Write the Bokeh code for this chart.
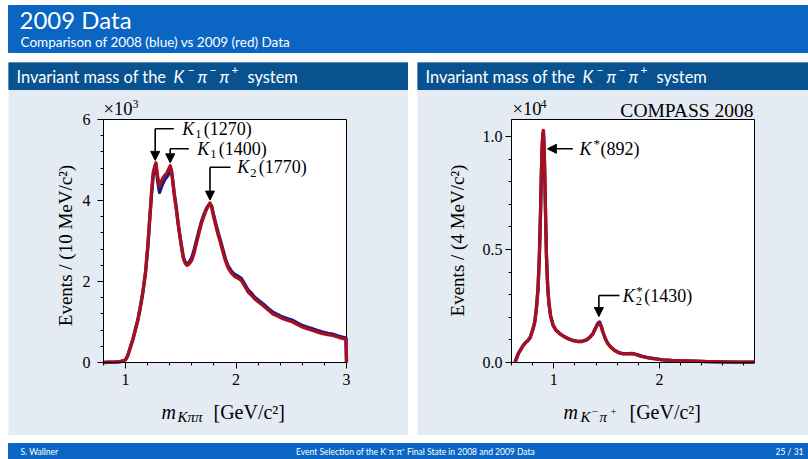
from bokeh.plotting import figure
from bokeh.models import (Range1d, Label, Arrow, NormalHead, SingleIntervalTicker,
                          NumeralTickFormatter, Spacer)
from bokeh.layouts import column, row
from bokeh.embed import file_html
from bokeh.resources import INLINE

# ---------------- data ----------------
# K pi pi invariant mass, 10 MeV bins, events in units of 10^3
kpp_mass = [0.80, 0.85, 0.90, 0.95, 0.98, 1.00, 1.02, 1.045, 1.07, 1.09, 1.11, 1.13, 1.155,
            1.18, 1.20, 1.22, 1.235, 1.25, 1.265, 1.275, 1.29, 1.307, 1.32, 1.337, 1.355,
            1.374, 1.39, 1.404, 1.415, 1.428, 1.44, 1.458, 1.475, 1.494, 1.51, 1.523, 1.54,
            1.554, 1.57, 1.585, 1.60, 1.62, 1.644, 1.665, 1.689, 1.71, 1.728, 1.745, 1.764,
            1.78, 1.794, 1.815, 1.839, 1.86, 1.884, 1.905, 1.929, 1.96, 1.989, 2.02, 2.049,
            2.08, 2.109, 2.14, 2.169, 2.20, 2.244, 2.29, 2.334, 2.38, 2.424, 2.47, 2.514,
            2.56, 2.604, 2.65, 2.694, 2.74, 2.784, 2.83, 2.874, 2.92, 2.97, 2.995, 3.0]
kpp_2009 = [0.0, 0.01, 0.01, 0.02, 0.04, 0.07, 0.18, 0.40, 0.62, 0.84, 1.05, 1.33, 1.72,
            2.23, 2.85, 3.63, 4.20, 4.70, 4.85, 4.93, 4.60, 4.35, 4.45, 4.55, 4.62,
            4.68, 4.78, 4.86, 4.75, 4.45, 4.15, 3.80, 3.42, 3.06, 2.78, 2.57, 2.45,
            2.40, 2.42, 2.47, 2.53, 2.70, 2.97, 3.20, 3.46, 3.62, 3.75, 3.85, 3.94,
            3.82, 3.63, 3.40, 3.14, 2.95, 2.70, 2.50, 2.33, 2.20, 2.12, 2.08, 2.02,
            1.88, 1.74, 1.66, 1.57, 1.50, 1.41, 1.30, 1.20, 1.14, 1.08, 1.04, 1.00,
            0.93, 0.87, 0.83, 0.79, 0.75, 0.71, 0.69, 0.67, 0.63, 0.59, 0.58, 0.0]
kpp_2008 = [0.0, 0.01, 0.01, 0.02, 0.04, 0.07, 0.17, 0.38, 0.60, 0.82, 1.03, 1.30, 1.70,
            2.20, 2.80, 3.58, 4.15, 4.62, 4.80, 4.88, 4.48, 4.20, 4.30, 4.42, 4.52,
            4.58, 4.66, 4.80, 4.72, 4.48, 4.18, 3.85, 3.46, 3.10, 2.82, 2.60, 2.48,
            2.44, 2.46, 2.52, 2.60, 2.78, 3.04, 3.26, 3.50, 3.66, 3.78, 3.86, 3.92,
            3.86, 3.68, 3.45, 3.20, 3.00, 2.76, 2.55, 2.38, 2.25, 2.17, 2.13, 2.07,
            1.93, 1.79, 1.71, 1.61, 1.54, 1.45, 1.34, 1.24, 1.18, 1.12, 1.08, 1.04,
            0.97, 0.91, 0.87, 0.83, 0.79, 0.75, 0.72, 0.70, 0.66, 0.62, 0.61, 0.0]

# K- pi+ invariant mass, 4 MeV bins, events in units of 10^4
kp_mass = [0.633, 0.645, 0.663, 0.685, 0.71, 0.735, 0.757, 0.775, 0.789, 0.805, 0.82, 0.835,
           0.851, 0.863, 0.874, 0.882, 0.889, 0.896, 0.902, 0.909, 0.915, 0.923, 0.931,
           0.942, 0.953, 0.97, 0.994, 1.02, 1.057, 1.095, 1.135, 1.18, 1.23, 1.27, 1.308,
           1.34, 1.371, 1.392, 1.409, 1.422, 1.434, 1.45, 1.465, 1.49, 1.512, 1.545, 1.575,
           1.615, 1.654, 1.70, 1.74, 1.78, 1.83, 1.89, 1.956, 2.03, 2.113, 2.22, 2.334,
           2.46, 2.585, 2.75, 2.9]
kp_2009 = [0.0, 0.015, 0.038, 0.055, 0.075, 0.088, 0.097, 0.108, 0.127, 0.150, 0.178, 0.235,
           0.326, 0.46, 0.65, 0.82, 0.945, 1.01, 1.027, 0.95, 0.83, 0.64, 0.47,
           0.34, 0.267, 0.205, 0.164, 0.143, 0.127, 0.115, 0.105, 0.097, 0.092, 0.093, 0.099,
           0.11, 0.127, 0.148, 0.164, 0.173, 0.176, 0.158, 0.134, 0.103, 0.083, 0.065, 0.053,
           0.043, 0.038, 0.038, 0.039, 0.035, 0.027, 0.021, 0.016, 0.012, 0.009, 0.007, 0.006,
           0.004, 0.003, 0.002, 0.002]
kp_2008 = [0.0, 0.015, 0.038, 0.056, 0.076, 0.089, 0.098, 0.109, 0.128, 0.151, 0.179, 0.236,
           0.327, 0.46, 0.65, 0.82, 0.94, 1.005, 1.022, 0.95, 0.83, 0.64, 0.47,
           0.34, 0.268, 0.206, 0.165, 0.144, 0.128, 0.116, 0.106, 0.098, 0.093, 0.094, 0.100,
           0.111, 0.128, 0.149, 0.166, 0.176, 0.179, 0.160, 0.135, 0.104, 0.084, 0.066, 0.054,
           0.044, 0.039, 0.039, 0.040, 0.036, 0.028, 0.022, 0.017, 0.012, 0.009, 0.007, 0.006,
           0.004, 0.003, 0.002, 0.002]

# ---------------- styling ----------------
HEAD_BLUE = "#0b65c2"
PANEL_BLUE = "#07528f"
PANEL_BG = "#e4ebf3"
RED = "#a8101f"
BLUE = "#17178c"
SERIF = "Liberation Serif"
SANS = "Lato"


def blank(w, h, xr, yr, bg="white"):
    p = figure(width=w, height=h, x_range=Range1d(*xr), y_range=Range1d(*yr),
               output_backend="svg", toolbar_location=None, min_border=0,
               background_fill_color=bg, border_fill_color=bg, outline_line_color=None)
    p.axis.visible = False
    p.grid.visible = False
    p.title.visible = False
    return p


def label(p, x, y, text, size="18px", font=SERIF, style="normal", align="left",
          color="black", angle=0.0):
    # y is the vertical centre of the capitals
    p.add_layout(Label(x=x, y=y, text=text, text_font=font, text_font_size=size,
                       text_font_style=style, text_align=align,
                       text_baseline="alphabetic", text_color=color, angle=angle))


class Panel:
    """A slide panel (title bar + body) whose plot area sits at fixed pixels."""
    TOP, HEIGHT, BAR = 62, 373, 89

    def __init__(self, left, width, area, xr, yr):
        self.px0, self.px1, self.py0, self.py1 = area
        self.x0, self.x1 = xr
        self.y0, self.y1 = yr
        self.sx = (self.px1 - self.px0) / (self.x1 - self.x0)
        self.sy = (self.py1 - self.py0) / (self.y1 - self.y0)
        xs = self.X(left)
        xe = self.X(left + width)
        ys = self.Y(self.TOP + self.HEIGHT)
        ye = self.Y(self.TOP)
        p = figure(width=width, height=self.HEIGHT, x_range=Range1d(xs, xe),
                   y_range=Range1d(ys, ye), output_backend="svg", toolbar_location=None,
                   min_border=0, background_fill_color=PANEL_BG,
                   border_fill_color=PANEL_BG, outline_line_color=None)
        p.title.visible = False
        p.grid.visible = False
        # title bar
        p.quad(left=xs, right=xe, top=ye, bottom=self.Y(self.BAR), color=PANEL_BLUE)
        # plot area
        p.quad(left=self.x0, right=self.x1, bottom=self.y0, top=self.y1,
               fill_color="white", line_color="black", line_width=1)
        self.p = p
        self.left = left

    def X(self, px):
        return self.x0 + (px - self.px0) / self.sx

    def Y(self, py):
        return self.y1 - (py - self.py0) / self.sy

    def text(self, px, py, text, **kw):
        label(self.p, self.X(px), self.Y(py), text, **kw)

    def bar_title(self):
        o = self.left - 8
        c = "white"
        cy, sy = 75.8, 69.5
        self.text(o + 16, cy, "Invariant mass of the", size="16.4px", font=SANS, color=c)
        self.text(o + 173, cy, "K", size="17px", font=SANS, style="italic", color=c)
        self.text(o + 187, sy, "\u2212", size="12px", font=SANS, color=c)
        self.text(o + 197, cy, "\u03c0", size="17px", font=SANS, style="italic", color=c)
        self.text(o + 209, sy, "\u2212", size="12px", font=SANS, color=c)
        self.text(o + 219, cy, "\u03c0", size="17px", font=SANS, style="italic", color=c)
        self.text(o + 231, sy, "+", size="12px", font=SANS, color=c)
        self.text(o + 247, cy, "system", size="16.4px", font=SANS, color=c)

    def axes(self, xint, yint, ystandoff):
        p = self.p
        p.xaxis.fixed_location = self.y0
        p.xaxis.bounds = (self.x0, self.x1)
        p.yaxis.fixed_location = self.x0
        p.yaxis.bounds = (self.y0, self.y1)
        p.xaxis.ticker = SingleIntervalTicker(interval=xint, num_minor_ticks=5)
        p.yaxis.ticker = SingleIntervalTicker(interval=yint, num_minor_ticks=5)
        for ax in (p.xaxis, p.yaxis):
            ax.major_tick_in = 0
            ax.major_tick_out = 6
            ax.minor_tick_in = 0
            ax.minor_tick_out = 3
            ax.axis_line_color = "black"
            ax.major_tick_line_color = "black"
            ax.minor_tick_line_color = "black"
            ax.major_label_text_font = SERIF
            ax.major_label_text_font_size = "16px"
            ax.major_label_text_color = "black"
        p.xaxis.major_label_standoff = 5
        p.yaxis.major_label_standoff = ystandoff

    def bent_arrow(self, x_tip, y_tip, y_corner, x_end):
        self.p.line([x_end, x_tip], [y_corner, y_corner], line_color="black",
                    line_width=1.6)
        self.p.add_layout(Arrow(end=NormalHead(size=9, fill_color="black",
                                               line_color="black"),
                                x_start=x_tip, y_start=y_corner, x_end=x_tip, y_end=y_tip,
                                line_color="black", line_width=1.6))

    def state(self, px, py, sub, mass, sup=None):
        self.text(px, py, "K", style="italic")
        if sub:
            self.text(px + 13, py + 5.5, sub, size="12.5px")
        if sup:
            self.text(px + 13.5, py - 5, sup, size="13px")
        self.text(px + 21.5, py, mass)


# ---------------- slide header ----------------
top = blank(808, 62, (0, 808), (62, 0))
top.quad(left=8, right=808, top=5, bottom=52, color=HEAD_BLUE)
label(top, 19, 18.5, "2009 Data", size="24px", font=SANS, color="white")
label(top, 20, 41, "Comparison of 2008 (blue) vs 2009 (red) Data", size="13.5px",
      font=SANS, color="white")

# ---------------- left panel: K pi pi ----------------
L = Panel(8, 400, (103, 346, 119, 362), (0.8, 3.0), (0.0, 6.0))
L.bar_title()
L.axes(1, 2, 7)
L.p.line(kpp_mass, kpp_2008, line_color=BLUE, line_width=3.3, line_join="round")
L.p.line(kpp_mass, kpp_2009, line_color=RED, line_width=3.3, line_join="round")

L.bent_arrow(1.268, 4.99, L.Y(128.3), L.X(173.3))
L.state(181.7, 128.3, "1", "(1270)")
L.bent_arrow(1.404, 4.93, L.Y(148.3), L.X(188.3))
L.state(196.7, 148.3, "1", "(1400)")
L.bent_arrow(1.764, 4.01, L.Y(166.7), L.X(230.0))
L.state(236.7, 166.7, "2", "(1770)")

L.text(103, 108, "\u00d710", size="18.5px")
L.text(132, 103, "3", size="12px")
L.text(65, 245, "Events / (10 MeV/c\u00b2)", size="19px", align="center",
       angle=1.5707963)
L.text(161, 411, "m", size="20px", style="italic")
L.text(177, 416, "K\u03c0\u03c0", size="15px", style="italic")
L.text(213, 411, "[GeV/c\u00b2]", size="20px")

# ---------------- right panel: K pi ----------------
R = Panel(417, 391, (511, 754, 119, 362), (0.6, 2.9), (0.0, 1.075))
R.bar_title()
R.axes(1, 0.5, 3)
R.p.yaxis.formatter = NumeralTickFormatter(format="0.0")
R.p.line(kp_mass, kp_2008, line_color=BLUE, line_width=3.3, line_join="round")
R.p.line(kp_mass, kp_2009, line_color=RED, line_width=3.3, line_join="round")

R.p.add_layout(Arrow(end=NormalHead(size=9, fill_color="black", line_color="black"),
                     x_start=R.X(572.3), y_start=R.Y(148.3), x_end=0.94, y_end=R.Y(148.3),
                     line_color="black", line_width=1.6))
R.text(579, 148.3, "K", style="italic")
R.text(593, 143, "*", size="13px")
R.text(600, 148.3, "(892)")

R.bent_arrow(1.427, 0.203, R.Y(295), R.X(619))
R.state(622.3, 295, "2", "(1430)", sup="*")

R.text(512, 108, "\u00d710", size="18.5px")
R.text(540, 103, "4", size="12px")
R.text(753, 109.5, "COMPASS 2008", size="19.5px", align="right")
R.text(457, 240, "Events / (4 MeV/c\u00b2)", size="19px", align="center",
       angle=1.5707963)
R.text(563, 411, "m", size="20px", style="italic")
R.text(580, 416, "K", size="15px", style="italic")
R.text(591, 411, "\u2212", size="11px")
R.text(599, 416, "\u03c0", size="15px", style="italic")
R.text(610, 411, "+", size="11px")
R.text(629, 411, "[GeV/c\u00b2]", size="20px")

# ---------------- footer ----------------
foot = blank(808, 24, (0, 808), (24, 0))
foot.quad(left=8, right=808, top=8, bottom=24, color=HEAD_BLUE)
label(foot, 20, 16, "S. Wallner", size="8.5px", font=SANS, color="white")
label(foot, 415, 16,
      "Event Selection of the K\u207b\u03c0\u207b\u03c0\u207a Final State in 2008 and 2009 Data",
      size="8.5px", font=SANS, color="white", align="center")
label(foot, 803, 16, "25 / 31", size="8.5px", font=SANS, color="white", align="right")

layout = column(
    top,
    row(Spacer(width=8, height=373), L.p, Spacer(width=9, height=373), R.p),
    foot,
)

open("out.html", "w").write(file_html(layout, INLINE))
